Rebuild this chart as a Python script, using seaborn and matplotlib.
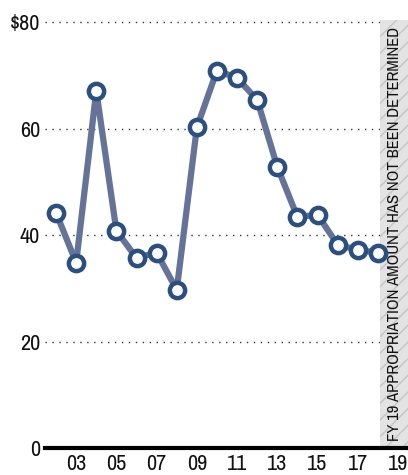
import matplotlib
matplotlib.use("Agg")
import matplotlib.pyplot as plt
import seaborn as sns
import pandas as pd

years = [2002, 2003, 2004, 2005, 2006, 2007, 2008, 2009, 2010,
         2011, 2012, 2013, 2014, 2015, 2016, 2017, 2018]
values = [44.2, 34.8, 67.1, 40.8, 35.7, 36.7, 29.7, 60.2, 70.9,
          69.5, 65.4, 52.8, 43.4, 43.8, 38.2, 37.2, 36.7]
y_ticks = [0, 20, 40, 60, 80]
y_labels = ["0", "20", "40", "60", "$80"]
x_ticks = [2003, 2005, 2007, 2009, 2011, 2013, 2015, 2017, 2019]
x_labels = ["03", "05", "07", "09", "11", "13", "15", "17", "19"]
note = "FY 19 APPROPRIATION AMOUNT HAS NOT BEEN DETERMINED"

df = pd.DataFrame({"year": years, "value": values})

sns.set_theme(style="white")
plt.rcParams["font.family"] = ["Archivo Narrow", "DejaVu Sans"]

fig = plt.figure(figsize=(4.08, 4.75), dpi=100)
ax = fig.add_axes([0.1103, 0.0568, 0.8897, 0.9012])

# hatched band for the undecided year
ax.axvspan(2018.1, 2019.6, facecolor="#e3e3e3", edgecolor="#c4c4c4",
           hatch="//", linewidth=0, zorder=1)
ax.text(2018.82, 40.3, note, rotation=90, ha="center", va="center",
        fontsize=12, fontweight="bold", color="#111111", zorder=2)

for t in y_ticks[1:]:
    ax.axhline(t, color="#333333", linestyle=(0, (1, 4)), linewidth=1, zorder=0)

sns.lineplot(data=df, x="year", y="value", ax=ax, color="#667399",
             linewidth=4.5, zorder=3)
ax.plot(df["year"], df["value"], linestyle="none", marker="o", markersize=11,
        markerfacecolor="white", markeredgecolor="#2b4f7e",
        markeredgewidth=3.2, zorder=4, clip_on=False)

ax.set_xlim(2001.45, 2019.5)
ax.set_ylim(0, 80.4)
ax.set_yticks(y_ticks)
ax.set_yticklabels(y_labels)
ax.set_xticks(x_ticks)
ax.set_xticklabels(x_labels)
ax.tick_params(axis="both", length=0, labelsize=16, colors="#111111")
ax.tick_params(axis="y", pad=3.5)
ax.tick_params(axis="x", pad=4.5)
ax.set_xlabel("")
ax.set_ylabel("")

for s in ["top", "right", "left"]:
    ax.spines[s].set_visible(False)
ax.spines["bottom"].set_color("black")
ax.spines["bottom"].set_linewidth(3)
ax.spines["bottom"].set_zorder(5)

fig.savefig("out.png", dpi=100)
